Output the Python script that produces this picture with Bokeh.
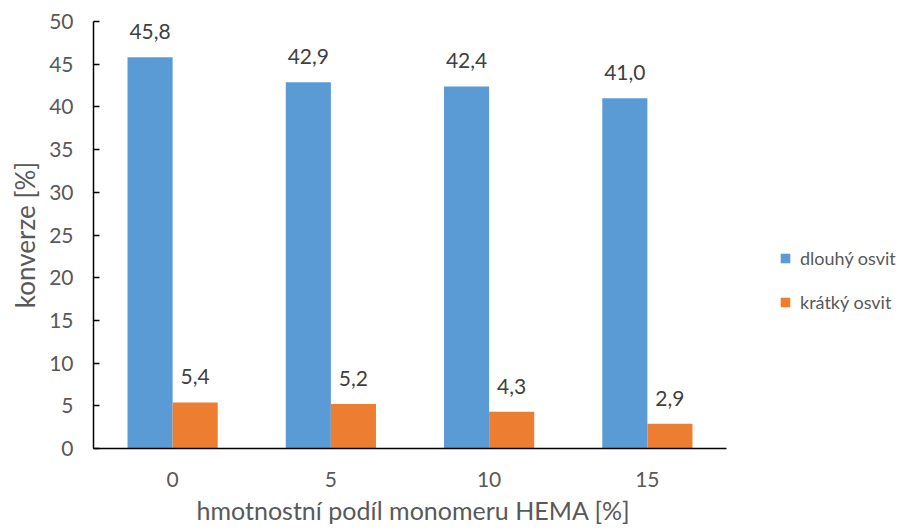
from bokeh.plotting import figure
from bokeh.models import (ColumnDataSource, Range1d, Legend, LegendItem, LabelSet,
                          FixedTicker, Title)
from bokeh.transform import dodge
from bokeh.core.properties import value
from bokeh.embed import file_html
from bokeh.resources import INLINE

categories = ["0", "5", "10", "15"]
dlouhy = [45.8, 42.9, 42.4, 41.0]
kratky = [5.4, 5.2, 4.3, 2.9]
series_names = ["dlouhý osvit", "krátký osvit"]
y_ticks = [0, 5, 10, 15, 20, 25, 30, 35, 40, 45, 50]
x_title = "hmotnostní podíl monomeru HEMA [%]"
y_title = "konverze [%]"

FONT = "Lato"
idx = list(range(len(categories)))
src = ColumnDataSource(dict(
    x=idx,
    d=dlouhy,
    k=kratky,
    dl=[f"{v:.1f}".replace(".", ",") for v in dlouhy],
    kl=[f"{v:.1f}".replace(".", ",") for v in kratky],
))

W, H = 905, 528
LEFT, TOP, FRAME_H = 93, 21, 428
CAT_PX = 158.25
x_end = -0.5 + (W - LEFT) / CAT_PX

p = figure(x_range=Range1d(-0.5, x_end), y_range=Range1d(0, 50),
           width=W, height=H, output_backend="svg", toolbar_location=None,
           min_border_left=LEFT, min_border_right=0, min_border_top=TOP,
           min_border_bottom=H - TOP - FRAME_H)

bw = 0.285
r1 = p.vbar(x=dodge("x", -bw / 2), top="d", width=bw, source=src,
            fill_color="#5B9BD5", line_color=None)
r2 = p.vbar(x=dodge("x", bw / 2), top="k", width=bw, source=src,
            fill_color="#ED7D31", line_color=None)

for col, lab, off in (("d", "dl", -bw / 2), ("k", "kl", bw / 2)):
    ls = LabelSet(x=dodge("x", off), y=col, text=lab, source=src,
                  text_align="center", text_baseline="bottom", y_offset=18,
                  text_font=value(FONT), text_font_size="21px", text_color="#404040")
    p.add_layout(ls)

legend = Legend(items=[LegendItem(label=series_names[0], renderers=[r1]),
                       LegendItem(label=series_names[1], renderers=[r2])],
                location=(686, 135), orientation="vertical",
                glyph_width=12, glyph_height=12, label_height=20, spacing=22,
                label_text_font=FONT, label_text_font_size="18px", label_text_color="#595959",
                background_fill_alpha=0, border_line_alpha=0, padding=0, margin=0,
                label_standoff=9)
p.add_layout(legend, "center")

p.xgrid.grid_line_color = None
p.ygrid.grid_line_color = None
p.outline_line_color = None

p.yaxis.ticker = y_ticks
p.yaxis.major_tick_in = 6
p.yaxis.major_tick_out = 0
p.yaxis.minor_tick_line_color = None
p.yaxis.axis_line_color = "black"
p.yaxis.major_tick_line_color = "black"
p.yaxis.axis_line_width = 1.5
p.yaxis.major_tick_line_width = 1.5
p.yaxis.major_label_standoff = 20
p.yaxis.axis_label = y_title
p.yaxis.axis_label_standoff = 5
p.yaxis.axis_label_text_font = FONT
p.yaxis.axis_label_text_font_style = "normal"
p.yaxis.axis_label_text_color = "#595959"
p.yaxis.axis_label_text_font_size = "26px"

p.xaxis.ticker = FixedTicker(ticks=idx)
p.xaxis.major_label_overrides = {i: c for i, c in zip(idx, categories)}
p.xaxis.bounds = (-0.5, len(categories) - 0.5)
p.xaxis.major_tick_line_color = None
p.xaxis.minor_tick_line_color = None
p.xaxis.axis_line_color = "black"
p.xaxis.axis_line_width = 1.5
p.xaxis.major_label_standoff = 17

for ax in (p.xaxis, p.yaxis):
    ax.major_label_text_font = FONT
    ax.major_label_text_font_size = "21px"
    ax.major_label_text_color = "#595959"

xt = Title(text=x_title, align="left", offset=103, standoff=7,
           text_font=FONT, text_font_size="25px", text_font_style="normal",
           text_color="#595959")
p.add_layout(xt, "below")

open("out.html", "w").write(file_html(p, INLINE))
